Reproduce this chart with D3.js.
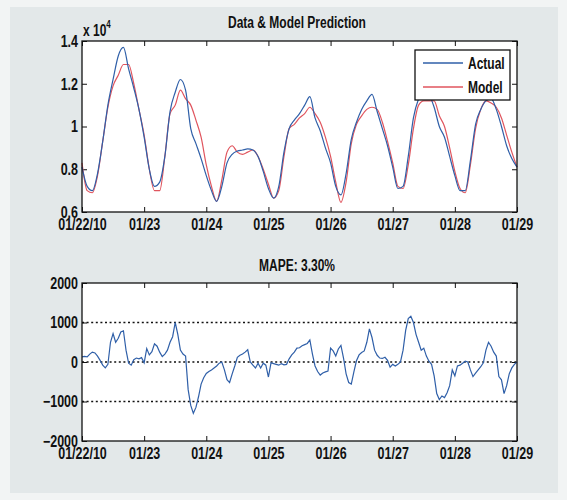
<!DOCTYPE html>
<html>
<head>
<meta charset="utf-8">
<script src="https://cdn.jsdelivr.net/npm/d3@7"></script>
<style>
body { margin: 0; background: #f2f4f4; }
svg text {
	font-family: "Liberation Sans", Arial, sans-serif;
	font-weight: bold;
	fill: #111;
	transform-box: fill-box;
	transform-origin: center;
	transform: scaleY(1.3);
}
</style>
</head>
<body>
<svg id="chart" width="567" height="500"></svg>
<script>

// one value every 2 hours, 01/22/10 00:00 -> 01/29 00:00 (x 10^4)
var actual = [0.81,0.72,0.70,0.78,0.93,1.10,1.22,1.33,1.37,1.27,1.18,1.08,
	0.95,0.80,0.72,0.74,0.86,1.07,1.16,1.22,1.17,0.99,0.92,0.85,
	0.77,0.70,0.65,0.72,0.83,0.87,0.885,0.89,0.895,0.89,0.86,0.79,
	0.71,0.665,0.72,0.88,0.99,1.03,1.06,1.10,1.14,1.04,0.98,0.90,
	0.83,0.72,0.68,0.78,0.94,1.02,1.08,1.12,1.15,1.07,0.99,0.91,
	0.81,0.71,0.72,0.86,1.04,1.13,1.17,1.15,1.09,1.00,0.95,0.86,
	0.77,0.70,0.70,0.84,1.01,1.08,1.12,1.13,1.08,1.00,0.91,0.85,
	0.81];
var model = [0.83,0.70,0.69,0.77,0.93,1.09,1.19,1.24,1.29,1.29,1.20,1.08,
	0.96,0.80,0.70,0.70,0.86,1.06,1.10,1.17,1.13,1.10,1.03,0.95,
	0.82,0.72,0.65,0.75,0.88,0.91,0.88,0.87,0.88,0.89,0.86,0.80,
	0.73,0.665,0.70,0.86,0.99,1.01,1.04,1.06,1.09,1.06,1.02,0.95,
	0.86,0.74,0.645,0.74,0.92,1.01,1.05,1.08,1.09,1.08,1.02,0.93,
	0.83,0.72,0.71,0.82,0.99,1.10,1.12,1.12,1.12,1.05,1.00,0.90,
	0.79,0.71,0.69,0.82,0.99,1.08,1.12,1.11,1.09,1.04,0.96,0.88,
	0.81];
// hourly residual, actual - model
var residual = [130,140,130,200,250,230,150,40,-80,-150,-60,500,
	720,500,600,760,790,300,-30,-80,60,100,80,110,
	-20,340,180,260,460,400,250,140,200,300,500,640,
	1000,700,300,200,150,-700,-1100,-1300,-1150,-880,-560,-400,
	-290,-240,-200,-150,-100,-30,0,-200,-450,-520,-300,-100,
	120,170,200,250,310,0,-80,-150,-30,-150,-30,-80,
	-380,-20,-40,-60,-80,-40,-70,-60,80,180,250,350,
	360,410,440,470,560,200,-100,-240,-330,-280,-250,-230,
	350,280,150,330,420,100,-300,-520,-560,-250,30,180,
	240,280,500,840,620,300,170,100,90,120,40,-130,
	-60,-100,-60,0,300,800,1100,1160,1000,700,500,300,
	350,150,20,-60,-350,-800,-950,-860,-900,-780,-600,-200,
	-350,-100,-80,-30,20,0,-200,-370,-280,-200,-120,-20,
	300,500,400,250,150,-370,-450,-800,-600,-300,-150,-60,
	0];

var dayLabels = ["01/22/10","01/23","01/24","01/25","01/26","01/27","01/28","01/29"];
var topTicks = [0.6, 0.8, 1, 1.2, 1.4];
var bottomTicks = [-2000, -1000, 0, 1000, 2000];
var gridLevels = [-1000, 0, 1000];

var startDate = new Date(2010, 0, 22);
var hour = 3600 * 1000;
var days = dayLabels.map(function(d, i) { return new Date(startDate.getTime() + i * 24 * hour); });

var svg = d3.select("#chart");

// grey panel behind the figure
svg.append("rect")
	.attr("x", 10).attr("y", 7)
	.attr("width", 548).attr("height", 486)
	.style("fill", "#e3e8e9");

var left = 82, right = 517;
var x = d3.scaleTime()
	.domain([days[0], days[days.length - 1]])
	.range([left, right]);

function fmtDay(d) {
	var i = days.findIndex(function(v) { return v.getTime() == d.getTime(); });
	return dayLabels[i];
}

function drawPanel(top, bottom, y, ticks, yFmt) {
	var g = svg.append("g");
	g.append("rect")
		.attr("x", left).attr("y", top)
		.attr("width", right - left).attr("height", bottom - top)
		.style("fill", "#fff");

	g.append("g")
		.attr("transform", "translate(0," + bottom + ")")
		.call(d3.axisBottom(x).tickValues(days).tickFormat(fmtDay).tickSizeInner(-5).tickSizeOuter(0).tickPadding(8));
	g.append("g")
		.attr("transform", "translate(0," + top + ")")
		.call(d3.axisTop(x).tickValues(days).tickFormat("").tickSizeInner(-5).tickSizeOuter(0));
	g.append("g")
		.attr("transform", "translate(" + left + ",0)")
		.call(d3.axisLeft(y).tickValues(ticks).tickFormat(yFmt).tickSizeInner(-5).tickSizeOuter(0).tickPadding(4));
	g.append("g")
		.attr("transform", "translate(" + right + ",0)")
		.call(d3.axisRight(y).tickValues(ticks).tickFormat("").tickSizeInner(-5).tickSizeOuter(0));

	g.selectAll(".domain").remove();
	g.selectAll(".tick line").style("stroke", "#111");
	g.selectAll(".tick text").style("font-size", "12.5px").style("fill", "#111");
	return g;
}

function boxOutline(top, bottom) {
	svg.append("rect")
		.attr("x", left).attr("y", top)
		.attr("width", right - left).attr("height", bottom - top)
		.style("fill", "none")
		.style("stroke", "#111")
		.style("stroke-width", 1.3);
}

// ---------- top: data & model ----------
var yTop = d3.scaleLinear().domain([0.6, 1.4]).range([212, 41]);
drawPanel(41, 212, yTop, topTicks, function(d) { return d == 1 ? "1" : d3.format(".1f")(d); });

var lineTop = d3.line()
	.curve(d3.curveMonotoneX)
	.x(function(d, i) { return x(new Date(startDate.getTime() + i * 2 * hour)); })
	.y(function(d) { return yTop(d); });

svg.append("path").datum(model)
	.attr("d", lineTop)
	.style("fill", "none").style("stroke", "#e0555e").style("stroke-width", 1.2);
svg.append("path").datum(actual)
	.attr("d", lineTop)
	.style("fill", "none").style("stroke", "#2f5fa8").style("stroke-width", 1.2);

boxOutline(41, 212);

svg.append("text")
	.attr("x", 297).attr("y", 27)
	.attr("text-anchor", "middle")
	.style("font-size", "12px")
	.text("Data & Model Prediction");

var mult = svg.append("text")
	.attr("x", 83).attr("y", 34)
	.style("font-size", "12px")
	.text("x 10");
mult.append("tspan")
	.attr("dy", -6)
	.style("font-size", "8px")
	.text("4");

// legend
var leg = svg.append("g");
leg.append("rect")
	.attr("x", 415).attr("y", 50)
	.attr("width", 95).attr("height", 50)
	.style("fill", "#fff").style("stroke", "#111").style("stroke-width", 1.3);
var legItems = [{name: "Actual", color: "#2f5fa8", y: 63}, {name: "Model", color: "#e0555e", y: 87}];
legItems.forEach(function(d) {
	leg.append("line")
		.attr("x1", 423).attr("x2", 463)
		.attr("y1", d.y).attr("y2", d.y)
		.style("stroke", d.color).style("stroke-width", 1.3);
	leg.append("text")
		.attr("x", 468).attr("y", d.y + 4.5)
		.style("font-size", "12px")
		.text(d.name);
});

// ---------- bottom: residual ----------
var yBot = d3.scaleLinear().domain([-2000, 2000]).range([441, 283]);
drawPanel(283, 441, yBot, bottomTicks, d3.format("d"));

svg.append("g").selectAll("line")
	.data(gridLevels)
	.enter().append("line")
	.attr("x1", left).attr("x2", right)
	.attr("y1", function(d) { return yBot(d); })
	.attr("y2", function(d) { return yBot(d); })
	.style("stroke", "#111")
	.style("stroke-width", 1.4)
	.style("stroke-dasharray", "2,2.6");

var lineBot = d3.line()
	.x(function(d, i) { return x(new Date(startDate.getTime() + i * hour)); })
	.y(function(d) { return yBot(d); });

svg.append("path").datum(residual)
	.attr("d", lineBot)
	.style("fill", "none").style("stroke", "#2f5fa8").style("stroke-width", 1.2);

boxOutline(283, 441);

svg.append("text")
	.attr("x", 297).attr("y", 270)
	.attr("text-anchor", "middle")
	.style("font-size", "12px")
	.text("MAPE: 3.30%");

</script>
</body>
</html>
